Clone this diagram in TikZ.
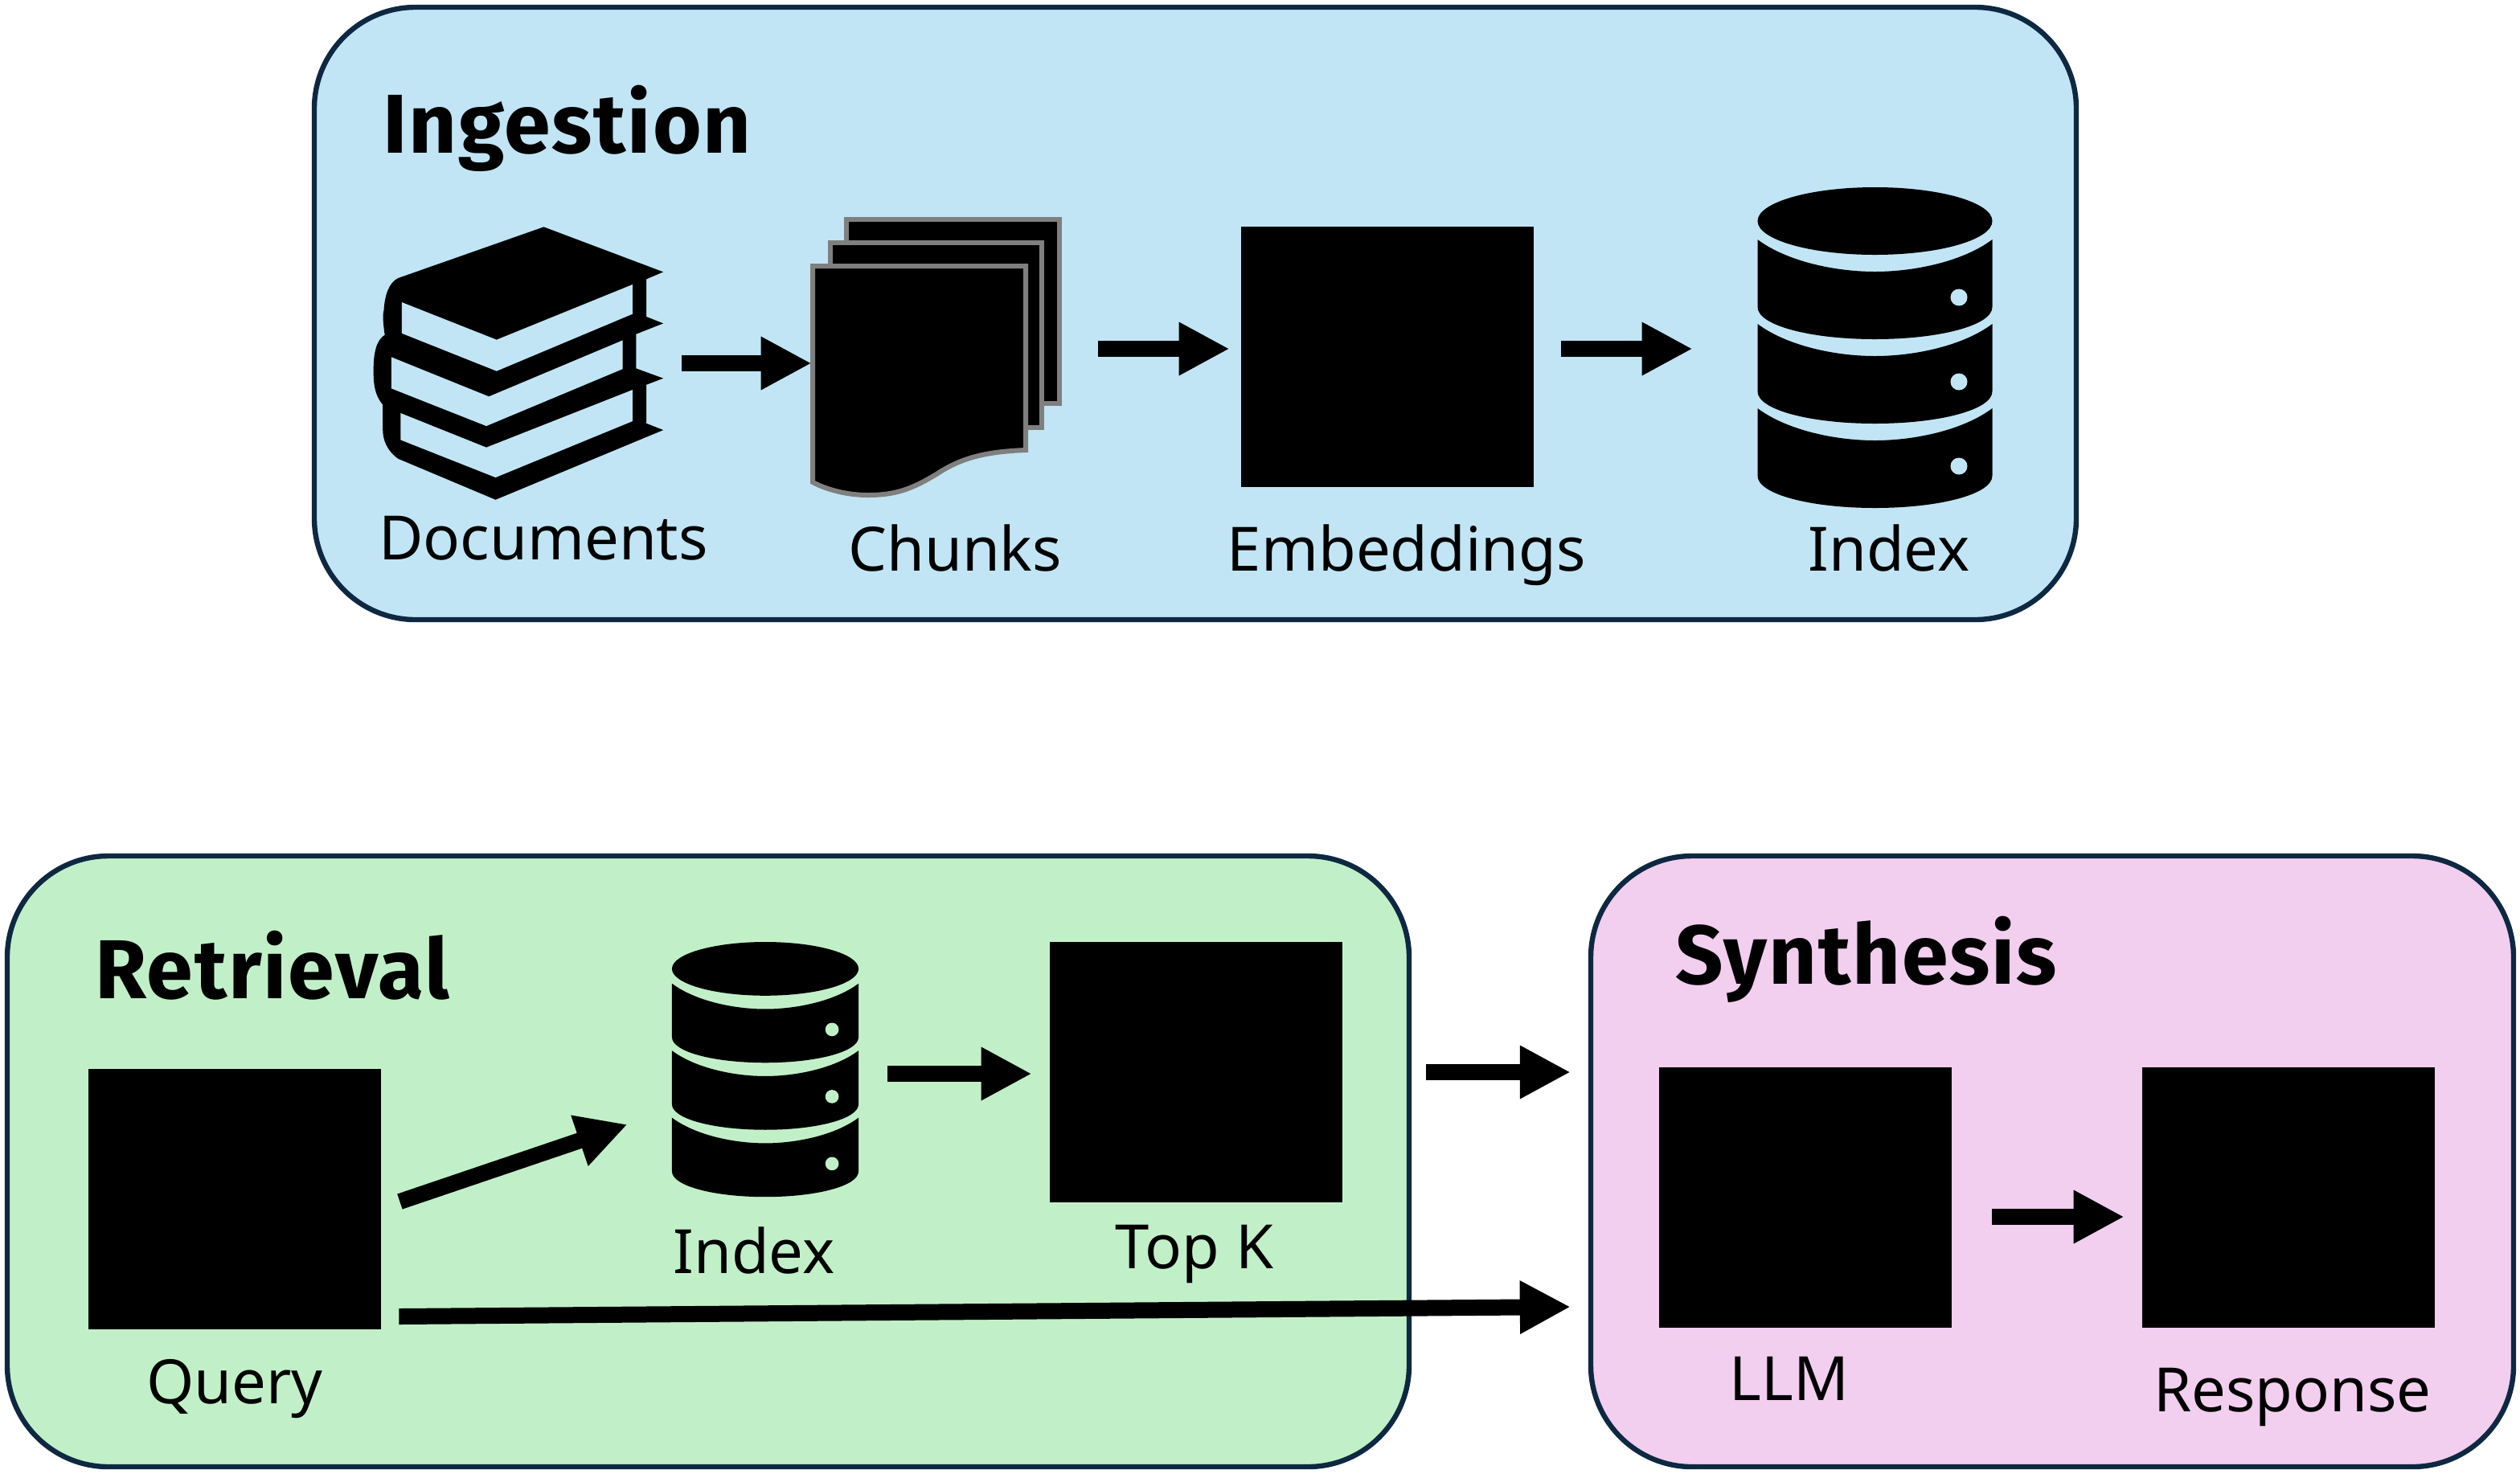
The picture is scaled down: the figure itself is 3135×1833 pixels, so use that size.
\documentclass[tikz,border=0pt]{standalone}
\usepackage{fontspec}
\setmainfont{Noto Sans}
\newfontfamily\titlefont[Ligatures=CommonOff,LetterSpace=1.8]{Fira Sans}
\usetikzlibrary{arrows.meta,calc}
\definecolor{ingestfill}{HTML}{C1E5F5}
\definecolor{retrievefill}{HTML}{C1F0C8}
\definecolor{synthfill}{HTML}{F2CEEF}
\definecolor{panelline}{HTML}{0E2841}
\definecolor{sheetline}{HTML}{7F7F7F}
\tikzset{
  panel/.style={draw=panelline,line width=3.2pt,rounded corners=63pt,inner sep=0pt},
  blacksq/.style={fill=black,inner sep=0pt,minimum width=182pt,minimum height=162pt},
  iconbox/.style={inner sep=0pt},
  lbl/.style={font=\fontsize{38}{38}\selectfont,anchor=base,inner sep=0pt},
  ttl/.style={font=\titlefont\fontsize{52}{52}\selectfont\bfseries,anchor=base west,inner sep=0pt},
  flow/.style={line width=10pt,-{Triangle[length=31.5pt,width=31pt]}},
  sheet/.style={draw=sheetline,fill=black,line width=3pt,line join=miter}
}
\newcommand{\dbicon}[4]{%
  \begin{scope}[shift={(#1,#2)},x=#3*0.5pt,y=-#3*0.5pt]
    \fill[black] (0,42) ellipse [x radius=146,y radius=42];
    \foreach \o in {0,105,210}{
      \fill[black] (-146,65+\o) .. controls (-110,92+\o) and (-50,105+\o) .. (0,105+\o)
        .. controls (50,105+\o) and (110,92+\o) .. (146,65+\o) -- (146,149+\o)
        .. controls (146,172+\o) and (80,189+\o) .. (0,189+\o)
        .. controls (-80,189+\o) and (-146,172+\o) .. (-146,149+\o) -- cycle;
      \fill[#4] (104.5,137+\o) circle [radius=10.5];
    }
  \end{scope}}
\begin{document}
\begin{tikzpicture}[x=0.5pt,y=-0.5pt]
\useasboundingbox (0,0) rectangle (3135,1833);
% panels
\node[panel,fill=ingestfill,minimum width=1096pt,minimum height=381pt] (ingestbox) at (1487,390) {};
\node[panel,fill=retrievefill,minimum width=872pt,minimum height=380pt] (retrievebox) at (881,1445) {};
\node[panel,fill=synthfill,minimum width=574pt,minimum height=380pt] (synthbox) at (2553,1445) {};
% titles
\node[ttl] (ingesttitle) at (476,190) {Ingestion};
\node[ttl] (retrievetitle) at (118,1242) {Retrieval};
\node[ttl] (synthtitle) at (2084,1224) {Synthesis};
% invisible frames of the icons
\node[iconbox,minimum width=180pt,minimum height=170pt] (docs) at (645,452) {};
\node[iconbox,minimum width=156.5pt,minimum height=170pt] (chunks) at (1164.5,452) {};
\node[iconbox,minimum width=145.5pt,minimum height=200pt] (indexA) at (2332.5,433) {};
\node[iconbox,minimum width=116pt,minimum height=159pt] (indexB) at (952,1331) {};
% squares
\node[blacksq] (embed) at (1726,444) {};
\node[blacksq] (query) at (292,1492) {};
\node[blacksq] (topk) at (1488,1334) {};
\node[blacksq] (llm) at (2246,1490) {};
\node[blacksq] (resp) at (2847,1490) {};
% books
\begin{scope}[shift={(420,240)},x=0.319pt,y=-0.1667pt]
  \fill[black] (402,127) -- (635,295) -- (602,322) -- (602,462) -- (635,487) -- (582,527)
    -- (582,655) -- (635,692) -- (602,716) -- (602,860) -- (635,885) -- (308,1145) -- (118,992)
    .. controls (95,960) and (88,920) .. (88,880) -- (88,790)
    .. controls (70,750) and (70,700) .. (70,660) .. controls (70,600) and (75,550) .. (92,530)
    .. controls (88,480) and (88,450) .. (90,440) .. controls (92,380) and (100,335) .. (118,318) -- cycle;
  \fill[ingestfill] (125,408) -- (310,548) -- (575,342) -- (575,452) -- (310,665) -- (125,524) -- cycle;
  \fill[ingestfill] (105,613) -- (295,760) -- (556,550) -- (556,657) -- (290,870) -- (105,730) -- cycle;
  \fill[ingestfill] (123,822) -- (290,950) -- (575,735) -- (575,852) -- (308,1062) -- (123,922) -- cycle;
\end{scope}
% chunks
\draw[sheet] (1053,273) rectangle (1318,502);
\draw[sheet] (1033,302) rectangle (1296,532);
\draw[sheet] (1011,331) -- (1276,331) -- (1276,560)
  .. controls (1225,562) and (1195,570) .. (1165,590)
  .. controls (1135,608) and (1115,616) .. (1080,616)
  .. controls (1055,616) and (1030,610) .. (1011,600) -- cycle;
% databases
\dbicon{2332.5}{233}{1}{ingestfill}
\dbicon{952}{1172}{0.795}{retrievefill}
% labels
\node[lbl] (ldocs) at (676,696) {Documents};
\node[lbl] (lchunks) at (1188,710) {Chunks};
\node[lbl] (lembed) at (1750,710) {Embeddings};
\node[lbl] (lindexA) at (2350,710) {Index};
\node[lbl] (lquery) at (292,1746) {Query};
\node[lbl] (lindexB) at (938,1584) {Index};
\node[lbl] (ltopk) at (1486,1578) {Top K};
\node[lbl] (lllm) at (2226,1742) {LLM};
\node[lbl] (lresp) at (2852,1756) {Response};
% connectors
\draw[flow] ($(docs.east)+(23,0)$) -- ($(chunks.west)+(2,0)$);
\draw[flow] ($(chunks.east)+(45,-18)$) -- ($(embed.west)+(-14,-10)$);
\draw[flow] ($(embed.east)+(34,-10)$) -- ($(indexA.west)+(-81,1)$);
\draw[flow] ($(indexB.east)+(36,5)$) -- ($(topk.west)+(-22,2)$);
\draw[flow] ($(query.east)+(23,3)$) -- ($(indexB.west)+(-55,68)$);
\draw[flow] ($(topk.east)+(104,0)$) -- ($(synthbox.west)+(-22,-111)$);
\draw[flow] ($(query.east)+(22,146)$) -- ($(synthbox.west)+(-22,181)$);
\draw[flow] ($(llm.east)+(50,24)$) -- ($(resp.west)+(-22,24)$);
\end{tikzpicture}
\end{document}
